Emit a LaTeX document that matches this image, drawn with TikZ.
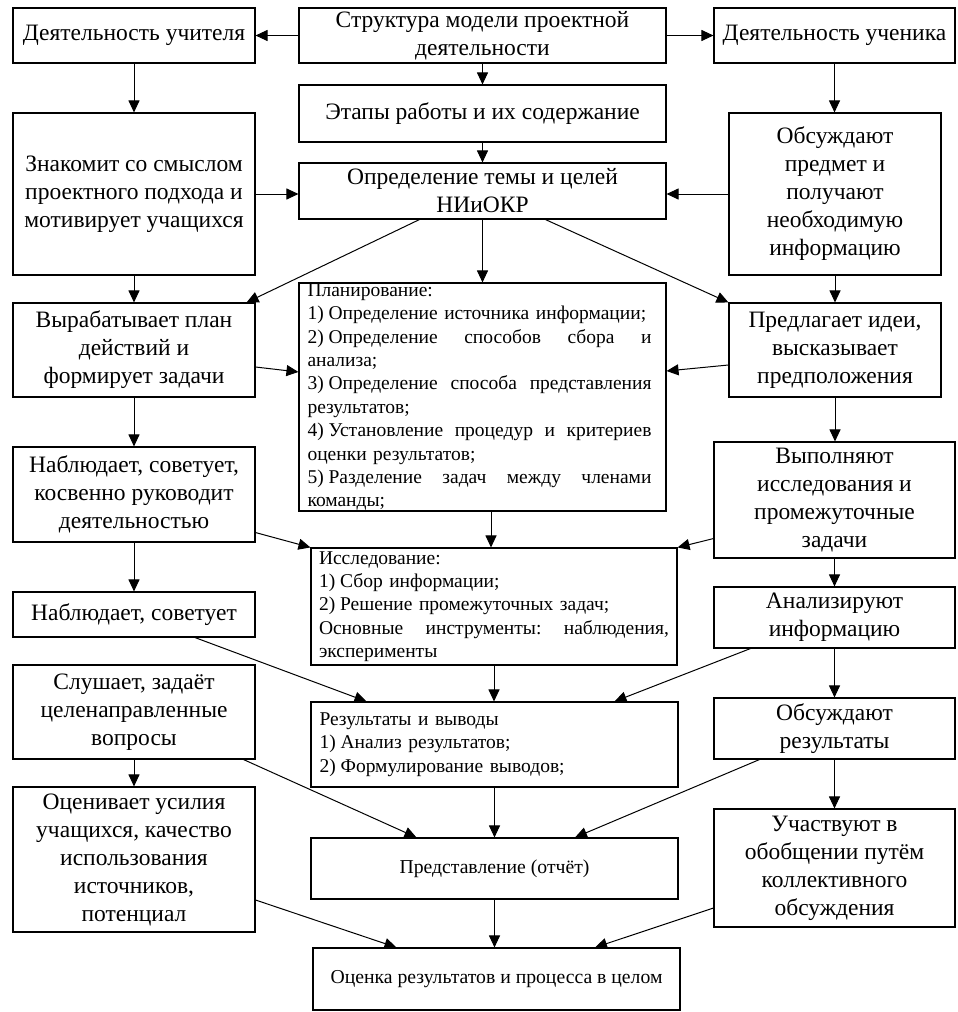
\documentclass[tikz,border=0pt]{standalone}
\usepackage{fontspec}
\setmainfont{Liberation Serif}
\usetikzlibrary{arrows.meta,calc}
\newcommand\bigtxt{\fontsize{23.5}{28}\selectfont}
\newcommand\smalltxt{\fontsize{19.5}{23.4}\selectfont}
\newcommand\midtxt{\fontsize{19.7}{23}\selectfont}
\newcommand\jl[2][344pt]{\makebox[#1][s]{\spaceskip=0.25em plus 1fil\relax\xspaceskip=\spaceskip #2}}
\newcommand\nsp{\hspace{0.25em}}
\begin{document}
\begin{tikzpicture}[x=1pt,y=-1pt,
  box/.style={draw, line width=1.1pt, inner sep=0pt, align=center, font=\bigtxt},
  lbox/.style={draw, line width=1.1pt, inner xsep=0pt, inner ysep=0pt, align=left, text width=350pt, font=\smalltxt},
  arr/.style={-{Triangle[length=12pt,width=11pt]}, line width=1pt}]
\useasboundingbox (0,0) rectangle (958,1012);
% top row
\node[box, minimum width=242pt, minimum height=55pt] (uchit) at (134,35.5) {Деятельность учителя};
\node[box, minimum width=367pt, minimum height=55pt] (struct) at (482.5,35.5) {Структура модели проектной\\деятельности};
\node[box, minimum width=241pt, minimum height=55pt] (uchen) at (834.5,35.5) {Деятельность ученика};
\node[box, minimum width=367pt, minimum height=57pt] (etap) at (482.5,113.5) {Этапы работы и их содержание};
\node[box, minimum width=367pt, minimum height=56pt] (opred) at (482.5,191) {Определение темы и целей\\НИиОКР};
\node[box, minimum width=242pt, minimum height=162pt] (znak) at (134,194) {Знакомит со смыслом\\проектного подхода и\\мотивирует учащихся};
\node[box, minimum width=212pt, minimum height=162pt] (obsu1) at (835,194) {Обсуждают\\предмет и\\получают\\необходимую\\информацию};
\node[lbox, minimum width=367pt, minimum height=228pt] (plan) at (482.5,397) {Планирование:\\
1)\nsp Определение источника информации;\\
\jl{2)\nsp Определение способов сбора и}\\
анализа;\\
\jl{3)\nsp Определение способа представления}\\
результатов;\\
\jl{4)\nsp Установление процедур и критериев}\\
оценки результатов;\\
\jl{5)\nsp Разделение задач между членами}\\
команды;};
\node[box, minimum width=242pt, minimum height=94pt] (vyrab) at (134,350) {Вырабатывает план\\действий и\\формирует задачи};
\node[box, minimum width=212pt, minimum height=94pt] (predl) at (835,350) {Предлагает идеи,\\высказывает\\предположения};
\node[box, minimum width=242pt, minimum height=95pt] (nabl1) at (134,494.5) {Наблюдает, советует,\\косвенно руководит\\деятельностью};
\node[box, minimum width=241pt, minimum height=116pt] (vypoln) at (834.5,500) {Выполняют\\исследования и\\промежуточные\\задачи};
\node[lbox, minimum width=366pt, minimum height=117pt] (issl) at (494,606.5) {Исследование:\\
1)\nsp Сбор информации;\\
2)\nsp Решение промежуточных задач;\\
\jl[350pt]{Основные инструменты: наблюдения,}\\
эксперименты};
\node[box, minimum width=242pt, minimum height=45pt] (nabl2) at (134,614.5) {Наблюдает, советует};
\node[box, minimum width=241pt, minimum height=61pt] (analiz) at (834.5,617.5) {Анализируют\\информацию};
\node[box, minimum width=242pt, minimum height=94pt] (slush) at (134,712) {Слушает, задаёт\\целенаправленные\\вопросы};
\node[lbox, minimum width=367pt, minimum height=85pt] (rezult) at (494.5,744.5) {Результаты и выводы\\
1)\nsp Анализ результатов;\\
2)\nsp Формулирование выводов;};
\node[box, minimum width=241pt, minimum height=61pt] (obsu2) at (834.5,728.5) {Обсуждают\\результаты};
\node[box, minimum width=242pt, minimum height=145pt] (ocenivaet) at (134,859.5) {Оценивает усилия\\учащихся, качество\\использования\\источников,\\потенциал};
\node[box, font=\midtxt, minimum width=367pt, minimum height=61pt] (predst) at (494.5,868.5) {Представление (отчёт)};
\node[box, minimum width=241pt, minimum height=118pt] (uchast) at (834.5,868) {Участвуют в\\обобщении путём\\коллективного\\обсуждения};
\node[box, font=\midtxt, minimum width=367pt, minimum height=62pt] (ocenka) at (496.5,979) {Оценка результатов и процесса в целом};
% connectors
\draw[arr] (struct.west) -- (uchit.east);
\draw[arr] (struct.east) -- (uchen.west);
\draw[arr] (struct.south) -- (etap.north);
\draw[arr] (etap.south) -- (opred.north);
\draw[arr] (uchit.south) -- (znak.north);
\draw[arr] (uchen.south) -- (uchen.south |- obsu1.north);
\draw[arr] (znak.east) -- (znak.east -| opred.west);
\draw[arr] (obsu1.west) -- (obsu1.west -| opred.east);
\draw[arr] (opred.south) -- (plan.north);
\draw[arr] ($(opred.south west)+(121,0)$) -- ($(vyrab.north east)+(-9,0)$);
\draw[arr] ($(opred.south west)+(247,0)$) -- (predl.north west);
\draw[arr] (znak.south) -- (vyrab.north);
\draw[arr] (obsu1.south) -- (predl.north);
\draw[arr] ($(vyrab.east)+(0,17)$) -- ($(plan.west)+(0,-25)$);
\draw[arr] ($(predl.west)+(0,15)$) -- ($(plan.east)+(0,-26)$);
\draw[arr] (vyrab.south) -- (nabl1.north);
\draw[arr] (predl.south) -- (predl.south |- vypoln.north);
\draw[arr] ($(plan.south)+(8.5,0)$) -- ($(issl.north)+(-3,0)$);
\draw[arr] ($(nabl1.south east)+(0,-10)$) -- (issl.north west);
\draw[arr] ($(vypoln.south west)+(0,-20)$) -- (issl.north east);
\draw[arr] (nabl1.south) -- (nabl2.north);
\draw[arr] (vypoln.south) -- (analiz.north);
\draw[arr] (issl.south) -- (issl.south |- rezult.north);
\draw[arr] ($(nabl2.south)+(61,0)$) -- ($(rezult.north west)+(56,0)$);
\draw[arr] ($(analiz.south west)+(37,0)$) -- ($(rezult.north)+(120,0)$);
\draw[arr] (slush.south) -- (ocenivaet.north);
\draw[arr] (analiz.south) -- (obsu2.north);
\draw[arr] (rezult.south) -- (predst.north);
\draw[arr] ($(slush.south east)+(-12,0)$) -- ($(predst.north west)+(106,0)$);
\draw[arr] ($(obsu2.south west)+(46,0)$) -- ($(predst.north)+(80.5,0)$);
\draw[arr] (obsu2.south) -- (uchast.north);
\draw[arr] (predst.south) -- (predst.south |- ocenka.north);
\draw[arr] ($(ocenivaet.east)+(0,40.5)$) -- ($(ocenka.north west)+(84,0)$);
\draw[arr] ($(uchast.west)+(0,40)$) -- ($(ocenka.north)+(98.5,0)$);
\end{tikzpicture}
\end{document}
